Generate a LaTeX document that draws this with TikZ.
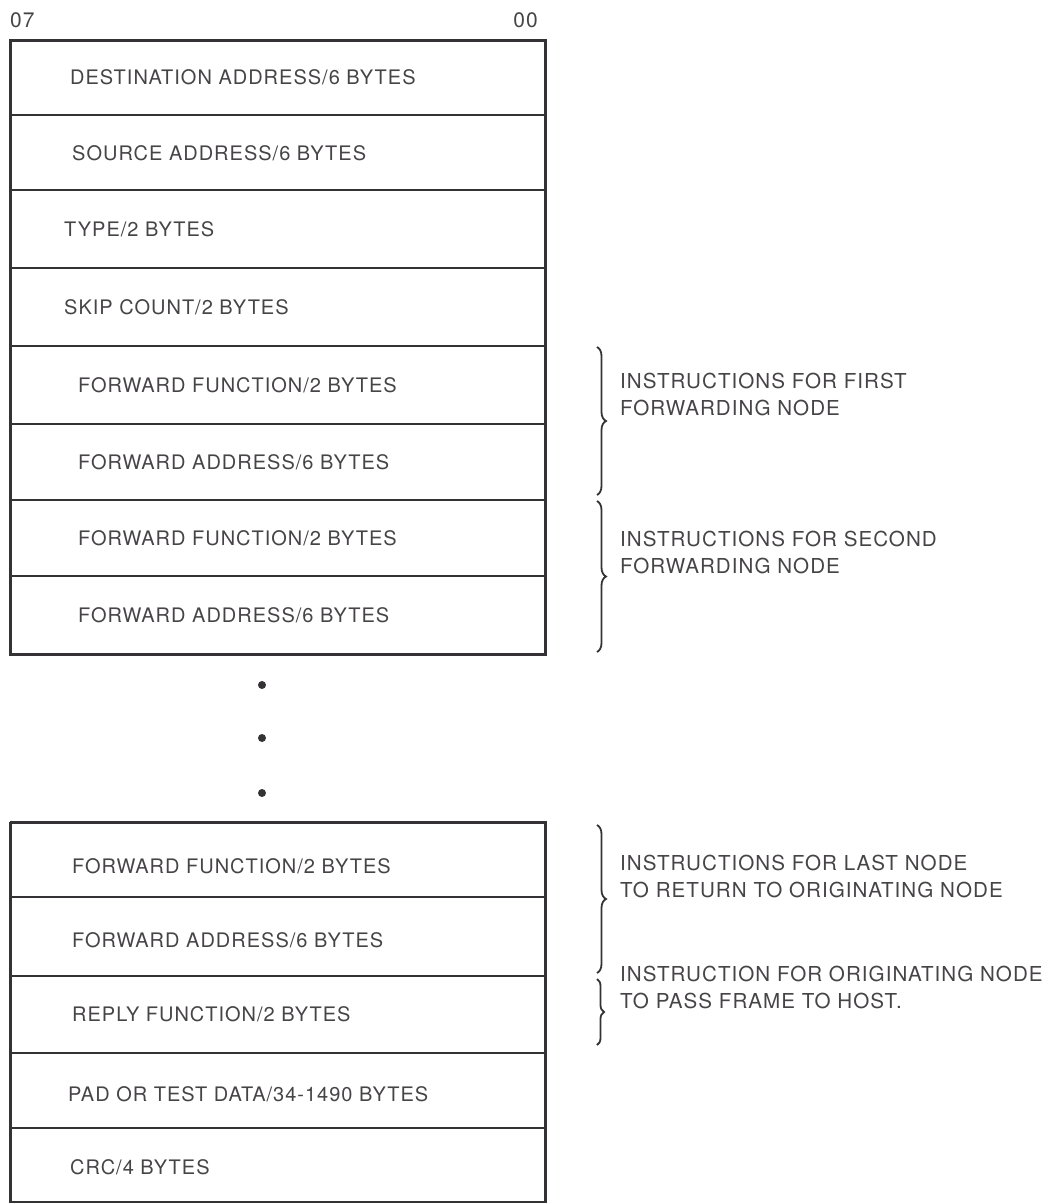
\documentclass[tikz,border=0pt]{standalone}
\usepackage{fontspec}
\setmainfont{TeX Gyre Heros}[LetterSpace=5]
\usetikzlibrary{decorations.pathreplacing}
\definecolor{ink}{HTML}{353235}
\definecolor{txt}{HTML}{474447}
\tikzset{
  frame/.style={draw=ink, line width=3pt},
  divider/.style={draw=ink, line width=2.2pt},
  lbl/.style={anchor=base west, inner sep=0pt, text=txt, font=\fontsize{20pt}{24pt}\selectfont},
  note/.style={anchor=base west, inner sep=0pt, text=txt, align=left, font=\fontsize{20.6pt}{27pt}\selectfont},
  bracestyle/.style={draw=ink, line width=1.8pt, decorate, decoration={brace, amplitude=9pt}},
  dot/.style={circle, fill=ink, inner sep=0pt, minimum size=8pt}
}
\begin{document}
\begin{tikzpicture}[x=1pt, y=-1pt]
\useasboundingbox (0,0) rectangle (1058,1203);
% bit numbers
\node[lbl, font=\fontsize{21pt}{24pt}\selectfont] (b07) at (10,27) {07};
\node[lbl, anchor=base east, font=\fontsize{21pt}{24pt}\selectfont] (b00) at (538,27) {00};
% upper frame
\foreach \yy in {115,190,268,346,424,500,576}
  \draw[divider] (10,\yy) -- (545,\yy);
\draw[frame] (10,40) rectangle (545,654);
\node[lbl] (u1) at (70,84.5) {DESTINATION ADDRESS/6 BYTES};
\node[lbl] (u2) at (72,160) {SOURCE ADDRESS/6 BYTES};
\node[lbl] (u3) at (64,236) {TYPE/2 BYTES};
\node[lbl] (u4) at (64,314) {SKIP COUNT/2 BYTES};
\node[lbl] (u5) at (78,392) {FORWARD FUNCTION/2 BYTES};
\node[lbl] (u6) at (78,469) {FORWARD ADDRESS/6 BYTES};
\node[lbl] (u7) at (78,545) {FORWARD FUNCTION/2 BYTES};
\node[lbl] (u8) at (78,622) {FORWARD ADDRESS/6 BYTES};
% dots
\node[dot] (d1) at (262,685) {};
\node[dot] (d2) at (262,738) {};
\node[dot] (d3) at (262,793) {};
% lower frame
\foreach \yy in {897,976,1053,1128}
  \draw[divider] (10,\yy) -- (545,\yy);
\draw[frame] (10,822) -- (545,822) -- (545,1205);
\draw[frame] (10,822) -- (10,1205);
\draw[frame] (10,1202) -- (545,1202);
\node[lbl] (l1) at (72,873) {FORWARD FUNCTION/2 BYTES};
\node[lbl] (l2) at (72,947) {FORWARD ADDRESS/6 BYTES};
\node[lbl] (l3) at (72,1021) {REPLY FUNCTION/2 BYTES};
\node[lbl] (l4) at (68,1101) {PAD OR TEST DATA/34-1490 BYTES};
\node[lbl] (l5) at (70,1174) {CRC/4 BYTES};
% braces
\coordinate (a1) at (597,347); \coordinate (a2) at (597,495);
\coordinate (c1) at (597,501); \coordinate (c2) at (597,652);
\coordinate (e1) at (597,825); \coordinate (e2) at (597,973);
\coordinate (g1) at (597,979); \coordinate (g2) at (597,1045);
\draw[bracestyle] (a1) -- (a2);
\draw[bracestyle] (c1) -- (c2);
\draw[bracestyle] (e1) -- (e2);
\draw[bracestyle, decoration={brace, amplitude=7pt}] (g1) -- (g2);
% notes
\node[note] (n1) at (620,415) {INSTRUCTIONS FOR FIRST\\FORWARDING NODE};
\node[note] (n2) at (620,573) {INSTRUCTIONS FOR SECOND\\FORWARDING NODE};
\node[note] (n3) at (620,897) {INSTRUCTIONS FOR LAST NODE\\TO RETURN TO ORIGINATING NODE};
\node[note] (n4) at (620,1008) {INSTRUCTION FOR ORIGINATING NODE\\TO PASS FRAME TO HOST.};
\end{tikzpicture}
\end{document}
